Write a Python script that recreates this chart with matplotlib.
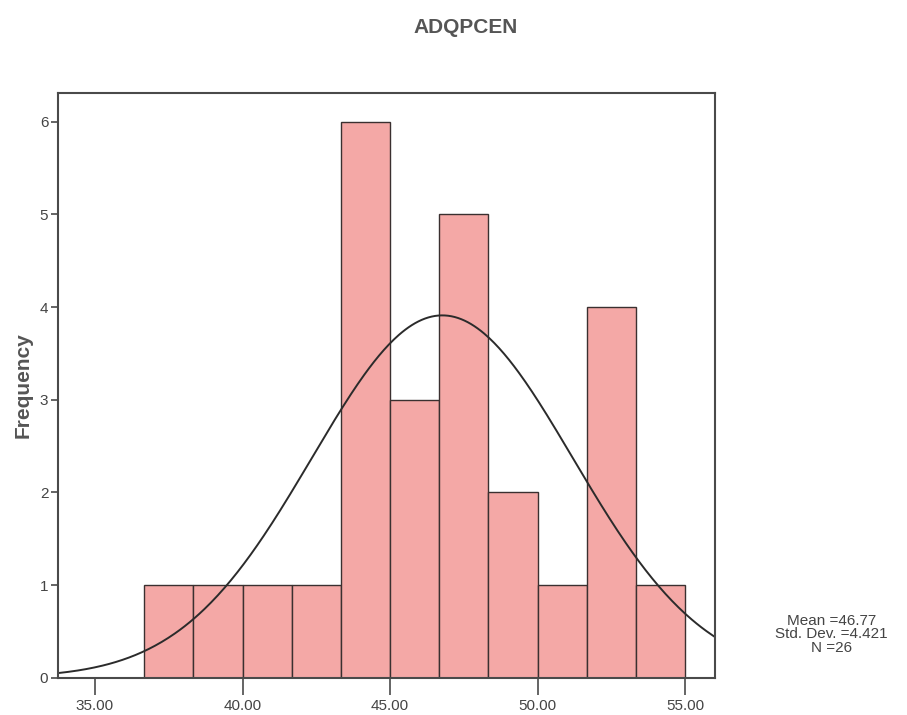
import matplotlib.pyplot as plt
import numpy as np

# Histogram bins and counts for ADQPCEN
bin_edges = [36.667, 38.333, 40.0, 41.667, 43.333, 45.0, 46.667, 48.333, 50.0, 51.667, 53.333, 55.0]
counts = [1, 1, 1, 1, 6, 3, 5, 2, 1, 4, 1]
mean = 46.77
std = 4.421
n = 26
x_ticks = [35, 40, 45, 50, 55]
x_labels = ['35.00', '40.00', '45.00', '50.00', '55.00']

plt.rcParams['font.family'] = ['Liberation Sans', 'DejaVu Sans']

fig = plt.figure(figsize=(9.07, 7.15), dpi=100)
ax = fig.add_axes([0.064, 0.052, 0.724, 0.818])

edges = np.array(bin_edges)
widths = np.diff(edges)
ax.bar(edges[:-1], counts, width=widths, align='edge',
       color='#f4a8a6', edgecolor='#3a3030', linewidth=1.0)

# Normal curve scaled to the histogram
bw = widths.mean()
xs = np.linspace(33.75, 56.0, 400)
ys = n * bw / (std * np.sqrt(2 * np.pi)) * np.exp(-0.5 * ((xs - mean) / std) ** 2)
ax.plot(xs, ys, color='#2b2b2b', linewidth=1.4)

ax.set_xlim(33.75, 56.0)
ax.set_ylim(0, 6.31)
ax.set_xticks(x_ticks)
ax.set_xticklabels(x_labels)
ax.set_yticks(range(0, 7))

for s in ax.spines.values():
    s.set_color('#4a4a4a')
    s.set_linewidth(1.5)

ax.tick_params(axis='x', length=12, width=1.2, colors='#4a4a4a', labelcolor='#444444',
               labelsize=11, pad=3)
ax.tick_params(axis='y', length=5, width=1.2, colors='#4a4a4a', labelcolor='#444444',
               labelsize=11, pad=2)

ax.set_ylabel('Frequency', fontsize=15, fontweight='bold', color='#555555', labelpad=5)
fig.text(0.513, 0.962, 'ADQPCEN', ha='center', va='center', fontsize=15,
         fontweight='bold', color='#555555')

fig.text(0.917, 0.113, f'Mean ={mean:.2f}\nStd. Dev. ={std:.3f}\nN ={n}',
         ha='center', va='center', fontsize=11, color='#444444', linespacing=0.95)

fig.savefig('out.png', dpi=100, facecolor='white')
